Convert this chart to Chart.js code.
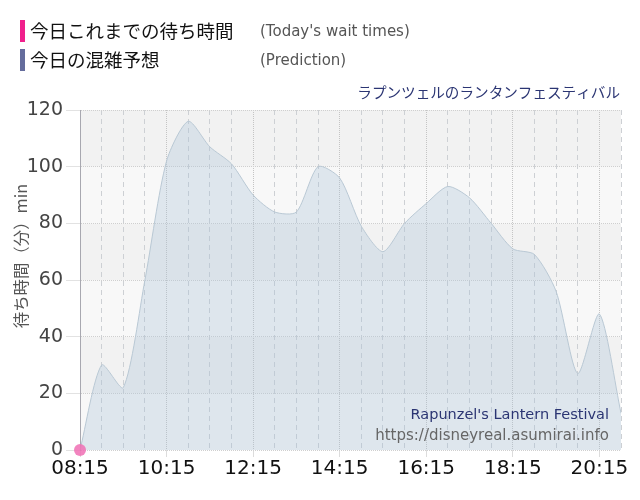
<!DOCTYPE html>
<html>
<head>
<meta charset="utf-8">
<script src="https://cdn.jsdelivr.net/npm/chart.js@4"></script>
<style>
  body { margin: 0; background: #fff; }
  #wrap { position: relative; width: 640px; height: 500px; }
  .leg { position: absolute; left: 20px; height: 22px; font-family: "Noto Sans CJK JP", sans-serif; font-size: 18.5px; color: #111; line-height: 22px; }
  .leg .bar { position: absolute; left: 0; top: 0; width: 5px; height: 22px; }
  .leg .jp { position: absolute; left: 10px; top: -1px; white-space: nowrap; }
  .leg .en { position: absolute; left: 240px; top: 0; white-space: nowrap; font-family: "DejaVu Sans", sans-serif; font-size: 15px; color: #555; }
</style>
</head>
<body>
<div id="wrap">
  <canvas id="waitChart"></canvas>
  <div class="leg" style="top:20px"><span class="bar" style="background:#f0208c"></span><span class="jp">今日これまでの待ち時間</span><span class="en">(Today's wait times)</span></div>
  <div class="leg" style="top:49px"><span class="bar" style="background:#646c9c"></span><span class="jp">今日の混雑予想</span><span class="en">(Prediction)</span></div>
</div>
<script>
// 30分刻みの時刻
const times = ['08:15', '08:45', '09:15', '09:45', '10:15', '10:45', '11:15', '11:45', '12:15', '12:45',
               '13:15', '13:45', '14:15', '14:45', '15:15', '15:45', '16:15', '16:45', '17:15', '17:45',
               '18:15', '18:45', '19:15', '19:45', '20:15', '20:45'];
const labeledTimes = ['08:15', '10:15', '12:15', '14:15', '16:15', '18:15', '20:15'];

// 混雑予想 (分)
const prediction = [0, 30, 22, 60, 102, 116, 107, 101, 90, 84, 84, 100, 96, 79, 70, 80, 87, 93, 89, 80, 71, 69, 56, 27, 48, 13];
// 今日これまでの待ち時間 (分)
const todayWait = [0];

const yTicks = [0, 20, 40, 60, 80, 100, 120];
const yTitle = '待ち時間（分）min';
const attraction = 'ラプンツェルのランタンフェスティバル';
const attractionEn = "Rapunzel's Lantern Festival";
const siteUrl = 'https://disneyreal.asumirai.info';

const isLabeled = i => labeledTimes.includes(times[i]);

// 背景の縞模様
const bandPlugin = {
    id: 'bands',
    beforeDraw(chart) {
        const { ctx, chartArea: a, scales: { y } } = chart;
        ctx.save();
        for (let i = 0; i < yTicks.length - 1; i++) {
            const top = y.getPixelForValue(yTicks[i + 1]);
            const bottom = y.getPixelForValue(yTicks[i]);
            ctx.fillStyle = i % 2 === 0 ? '#f8f8f8' : '#f2f2f2';
            ctx.fillRect(a.left, top, a.right - a.left, bottom - top);
        }
        ctx.restore();
    }
};

// タイトル、縦軸名、クレジット
const textPlugin = {
    id: 'texts',
    afterDraw(chart) {
        const { ctx, chartArea: a } = chart;
        ctx.save();
        ctx.textAlign = 'right';
        ctx.textBaseline = 'middle';
        ctx.fillStyle = '#2b3573';
        ctx.font = '14.6px "Noto Sans CJK JP"';
        ctx.fillText(attraction, a.right - 1, 92);
        ctx.font = '14.5px "DejaVu Sans"';
        ctx.fillText(attractionEn, a.right - 12, 415);
        ctx.fillStyle = '#666';
        ctx.font = '15px "DejaVu Sans"';
        ctx.fillText(siteUrl, a.right - 12, 436);

        ctx.translate(21, 256);
        ctx.rotate(-Math.PI / 2);
        ctx.textAlign = 'center';
        ctx.fillStyle = '#555';
        ctx.font = '16.4px "Noto Sans CJK JP"';
        ctx.fillText(yTitle, 0, 0);
        ctx.restore();
    }
};

const waitCtx = document.getElementById('waitChart').getContext('2d');
const waitChart = new Chart(waitCtx, {
    type: 'line',
    data: {
        labels: times,
        datasets: [{
            label: '今日これまでの待ち時間',
            data: todayWait,
            showLine: false,
            pointRadius: 6,
            pointBackgroundColor: 'rgba(240, 110, 180, 0.85)',
            pointBorderWidth: 0,
            clip: false
        }, {
            label: '今日の混雑予想',
            data: prediction,
            fill: 'origin',
            backgroundColor: 'rgba(170, 195, 215, 0.33)',
            borderColor: '#b9c8d4',
            borderWidth: 1,
            pointRadius: 0,
            tension: 0.25
        }]
    },
    options: {
        responsive: true,
        maintainAspectRatio: false,
        animation: false,
        layout: { padding: { top: 110, right: 19, bottom: 10, left: 0 } },
        plugins: {
            legend: { display: false },
            tooltip: { enabled: false }
        },
        scales: {
            x: {
                afterFit(scale) { scale.height = 40; },
                ticks: {
                    autoSkip: false,
                    maxRotation: 0,
                    color: '#111',
                    font: { family: 'DejaVu Sans', size: 20 },
                    padding: 0,
                    callback: (v, i) => isLabeled(i) ? times[i] : ''
                },
                grid: {
                    color: ctx => isLabeled(ctx.index) ? '#c4c4c4' : '#cdd0d4',
                    tickLength: 7,
                    tickColor: ctx => isLabeled(ctx.index) ? '#dcdcdc' : 'rgba(0,0,0,0)'
                },
                border: {
                    display: false,
                    dash: ctx => isLabeled(ctx.index) ? [1, 1] : [5, 4]
                }
            },
            y: {
                min: 0,
                max: 120,
                afterFit(scale) { scale.width = 80; },
                ticks: {
                    stepSize: 20,
                    color: '#444',
                    font: { family: 'DejaVu Sans', size: 19 },
                    padding: 3
                },
                grid: {
                    color: '#cfcfcf',
                    tickLength: 14,
                    tickColor: '#e2e2e2'
                },
                border: {
                    display: true,
                    color: '#a8a8b0',
                    dash: [1, 1]
                }
            }
        }
    },
    plugins: [bandPlugin, textPlugin]
});
</script>
</body>
</html>
